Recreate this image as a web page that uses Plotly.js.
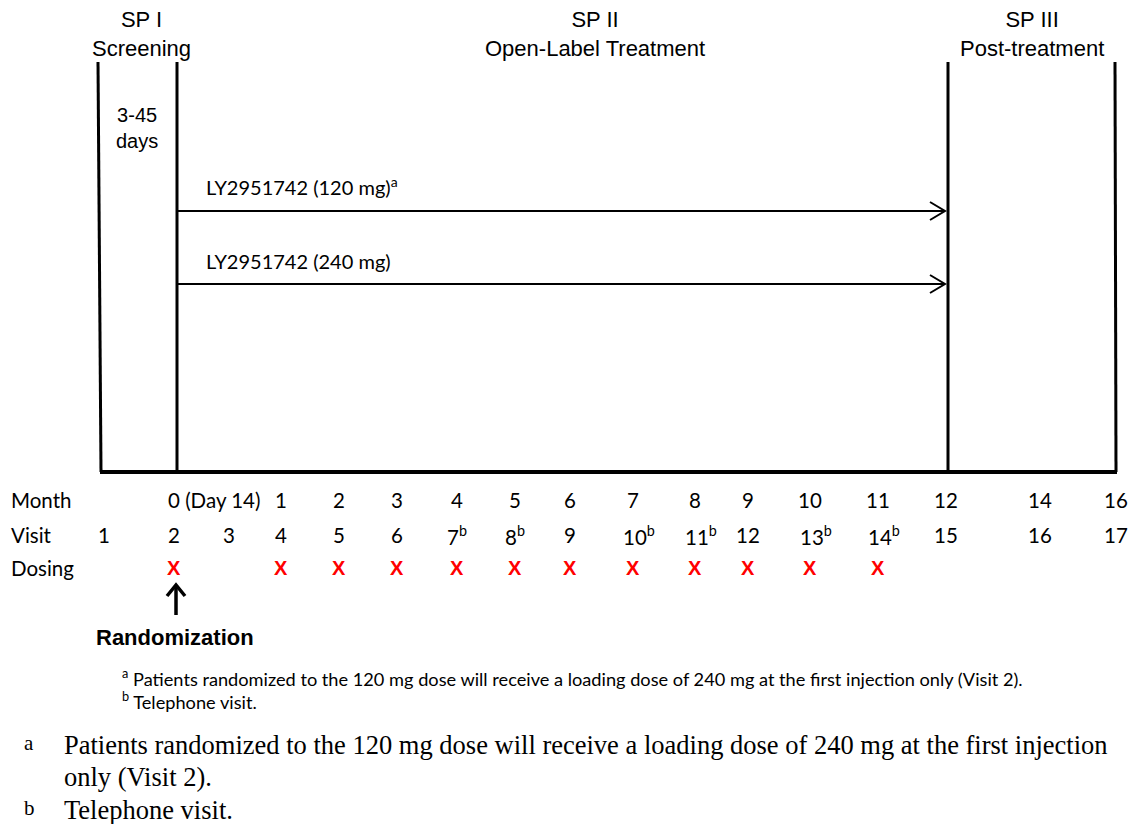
<!DOCTYPE html>
<html><head><meta charset="utf-8">
<script src="https://cdn.plot.ly/plotly-3.0.1.min.js"></script>
<style>html,body{margin:0;padding:0;background:#fff}#chart{width:1129px;height:824px}</style>
</head><body><div id="chart"></div>
<script>
// ---- content (data) ----
const periodLabels = ["SP I<br>Screening", "SP II<br>Open-Label Treatment", "SP III<br>Post-treatment"];
const screeningDuration = "3-45<br>days";
const treatmentArms = ["LY2951742 (120 mg)<sup>a</sup>", "LY2951742 (240 mg)"];
const rowLabels = ["Month", "Visit", "Dosing"];
const visits = ["1","2","3","4","5","6","7<sup>b</sup>","8<sup>b</sup>","9","10<sup>b</sup>","11<sup>b</sup>","12","13<sup>b</sup>","14<sup>b</sup>","15","16","17"];
const months = ["","0 (Day 14)","","1","2","3","4","5","6","7","8","9","10","11","12","14","16"];
const dosing = [0,1,0,1,1,1,1,1,1,1,1,1,1,1,0,0,0];
const randomizationLabel = "Randomization";
const footnotesSmall = ["<sup>a</sup> Patients randomized to the 120 mg dose will receive a loading dose of 240 mg at the first injection only (Visit 2).", "<sup>b</sup> Telephone visit."];
const footnoteMarks = ["a", "b"];
const footnotesLarge = ["Patients randomized to the 120 mg dose will receive a loading dose of 240 mg at the first injection", "only (Visit 2).", "Telephone visit."];

// ---- layout geometry (pixel positions on a 1129x824 canvas) ----
const colX = [104,174,229,281,339,397,457,515,570,633,695,748,810,878,946,1040,1116];
const periodX = [141, 595, 1032];
const boundaryX = [[98,101],[177,177],[948,948],[1115,1116]];
const boxTop = 62, boxBottom = 472;
const armY = [211, 284], armLabelY = [186, 261];
const rowY = [500, 535, 568];

const sans = "Lato, 'Open Sans', sans-serif";
const arial = "'Liberation Sans', Arial, sans-serif";
const serif = "'Liberation Serif', 'Times New Roman', serif";

const shapes = [];
const annotations = [];
boundaryX.forEach(([xt, xb]) => shapes.push({type:'line', xref:'x', yref:'y', x0:xt, y0:boxTop, x1:xb, y1:boxBottom, line:{color:'#000', width:3}}));
shapes.push({type:'line', xref:'x', yref:'y', x0:boundaryX[0][1]-1, y0:boxBottom, x1:boundaryX[3][1]+1, y1:boxBottom, line:{color:'#000', width:4}});
armY.forEach(y => {
  shapes.push({type:'line', xref:'x', yref:'y', x0:177, y0:y, x1:945, y1:y, line:{color:'#000', width:2}});
  shapes.push({type:'path', xref:'x', yref:'y', path:`M 930 ${y-9} L 945 ${y} L 930 ${y+9}`, line:{color:'#000', width:2}});
});
// randomization arrow
shapes.push({type:'line', xref:'x', yref:'y', x0:176, y0:615, x1:176, y1:586, line:{color:'#000', width:3.5}});
shapes.push({type:'path', xref:'x', yref:'y', path:'M 167 596 L 176 585 L 185 596', line:{color:'#000', width:3.5}});

periodLabels.forEach((t, i) => annotations.push({x:periodX[i], y:34, text:t, showarrow:false, xanchor:'center', yanchor:'middle', font:{family:arial, size:22, color:'#000'}}));
annotations.push({x:137, y:128, text:screeningDuration, showarrow:false, xanchor:'center', yanchor:'middle', font:{family:arial, size:20, color:'#000'}});
treatmentArms.forEach((t, i) => annotations.push({x:204, y:armLabelY[i], text:t, showarrow:false, xanchor:'left', yanchor:'middle', font:{family:sans, size:20, color:'#000'}}));
rowLabels.forEach((t, i) => annotations.push({x:9, y:rowY[i], text:t, showarrow:false, xanchor:'left', yanchor:'middle', font:{family:sans, size:20.5, color:'#000'}}));
months.forEach((t, i) => { if (t) {
  const wide = t.length > 3;
  annotations.push({x: wide ? colX[i]-8 : colX[i], y:rowY[0], text:t, showarrow:false, xanchor: wide ? 'left' : 'center', yanchor:'middle', font:{family:sans, size:20.5, color:'#000'}});
}});
visits.forEach((t, i) => {
  const sup = t.indexOf('<sup>') >= 0;
  annotations.push({x: sup ? colX[i]-(t.length > 12 ? 12 : 7) : colX[i], y:rowY[1], text:t, showarrow:false, xanchor: sup ? 'left' : 'center', yanchor:'middle', font:{family:sans, size:20.5, color:'#000'}});
});
dosing.forEach((d, i) => { if (d) annotations.push({x:colX[i], y:rowY[2], text:'<b>X</b>', showarrow:false, xanchor:'center', yanchor:'middle', font:{family:arial, size:20, color:'#ff0000'}}); });
annotations.push({x:94, y:637, text:'<b>'+randomizationLabel+'</b>', showarrow:false, xanchor:'left', yanchor:'middle', font:{family:arial, size:22, color:'#000'}});
footnotesSmall.forEach((t, i) => annotations.push({x:120, y:677 + i*23, text:t, showarrow:false, xanchor:'left', yanchor:'middle', font:{family:sans, size:18.2, color:'#000'}}));
annotations.push({x:22, y:743, text:footnoteMarks[0], showarrow:false, xanchor:'left', yanchor:'middle', font:{family:serif, size:21, color:'#000'}});
annotations.push({x:22, y:808, text:footnoteMarks[1], showarrow:false, xanchor:'left', yanchor:'middle', font:{family:serif, size:21, color:'#000'}});
[745, 777, 810].forEach((y, i) => annotations.push({x:62, y:y, text:footnotesLarge[i], showarrow:false, xanchor:'left', yanchor:'middle', font:{family:serif, size:26.5, color:'#000'}}));

const layout = {
  width:1129, height:824,
  margin:{l:0, r:0, t:0, b:0},
  paper_bgcolor:'#fff', plot_bgcolor:'#fff',
  showlegend:false,
  xaxis:{range:[0,1129], visible:false, fixedrange:true},
  yaxis:{range:[824,0], visible:false, fixedrange:true},
  shapes:shapes, annotations:annotations
};
Plotly.newPlot('chart', [{x:[0], y:[0], mode:'markers', marker:{opacity:0}, hoverinfo:'skip'}], layout, {displayModeBar:false, staticPlot:true});
</script></body></html>
